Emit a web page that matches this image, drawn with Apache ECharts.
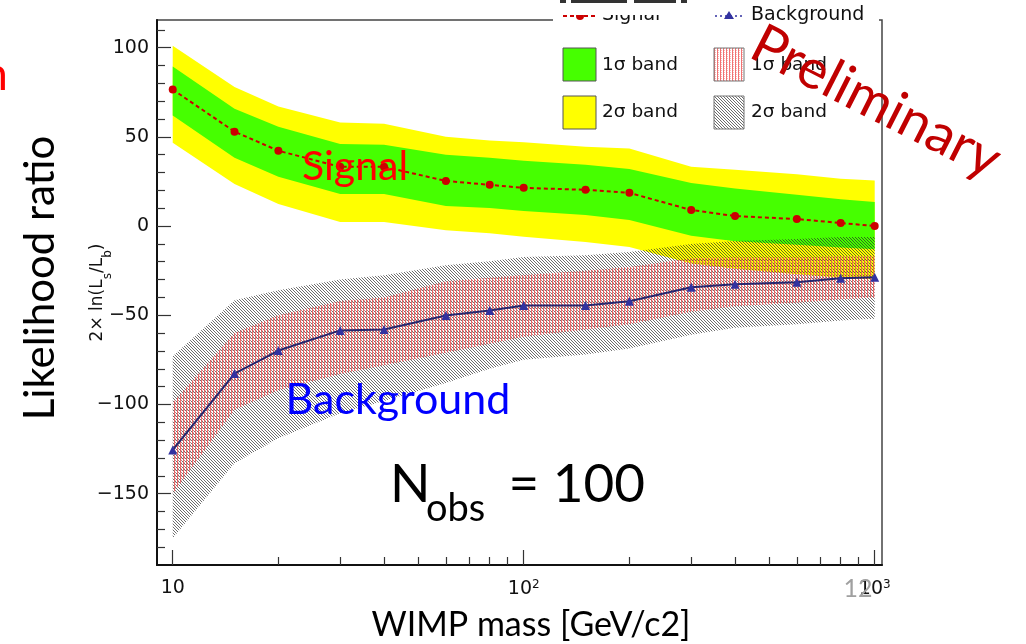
<!DOCTYPE html>
<html>
<head>
<meta charset="utf-8">
<script src="https://cdn.jsdelivr.net/npm/echarts@6/dist/echarts.min.js"></script>
<style>html,body{margin:0;padding:0;background:#fff}#c{width:1026px;height:644px}</style>
</head>
<body>
<div id="c"></div>
<script>
// ---- data ----
const mass = [10, 15, 20, 30, 40, 60, 80, 100, 150, 200, 300, 400, 600, 800, 1000];
const signal = [76.5, 52.9, 42.2, 33.2, 33.2, 25.3, 23.1, 21.4, 20.3, 18.6, 9.0, 5.6, 3.9, 1.7, 0.0];
const sig2Up = [101, 78, 67, 58, 57.4, 50, 48, 47, 44.5, 43.5, 33.2, 31.5, 29, 26.5, 25.5];
const sig1Up = [89.5, 65.8, 55.7, 46, 45.6, 40, 38.3, 36.6, 34.3, 32, 24.2, 21, 17.5, 15, 13.5];
const sig1Lo = [62, 38.3, 27.6, 18, 18, 11.3, 10.1, 8.4, 6.2, 3.4, -5.5, -8.5, -10.5, -12, -13];
const sig2Lo = [46.7, 23.6, 12.4, 2.3, 2.3, -2.3, -4, -6, -9, -11.8, -21, -24, -27, -29, -30];
const background = [-125.5, -82.7, -69.8, -58.5, -58, -50.1, -47.3, -44.5, -44.5, -42.2, -34.3, -32.6, -31.5, -29.3, -28.7];
const bkg2Up = [-73, -41.6, -36, -30, -27.6, -22, -19.7, -17.4, -16.3, -14.6, -10, -8.4, -7.3, -6.2, -6.2];
const bkg1Up = [-99, -60, -50, -42, -40, -31, -29, -27.5, -25, -23, -18, -17.5, -17.5, -17, -17];
const bkg1Lo = [-150, -103, -92, -83, -78, -71, -66, -62, -58, -55, -48, -45, -43, -41, -40];
const bkg2Lo = [-175, -133, -119, -105, -98, -88, -80, -75, -72, -68.7, -61, -57, -55, -53, -52];

const xMajorTicks = [10, 100, 1000];
const xMinorTicks = [20, 30, 40, 50, 60, 70, 80, 90, 200, 300, 400, 500, 600, 700, 800, 900];
const yMajorTicks = [-150, -100, -50, 0, 50, 100];
const yMinorTicks = [-180, -170, -160, -140, -130, -120, -110, -90, -80, -70, -60, -40, -30, -20, -10,
  10, 20, 30, 40, 60, 70, 80, 90, 110];

// ---- hatch patterns ----
function makePattern(w, h, painter) {
  const c = document.createElement('canvas');
  c.width = w; c.height = h;
  const g = c.getContext('2d');
  painter(g);
  return { image: c, repeat: 'repeat' };
}
const grayHatch = makePattern(3, 3, g => {
  g.fillStyle = 'rgba(40,40,40,0.68)';
  g.fillRect(0, 0, 1, 1); g.fillRect(1, 1, 1, 1); g.fillRect(2, 2, 1, 1);
});
const redHatch = makePattern(3, 2, g => {
  g.fillStyle = 'rgba(238,80,80,0.8)';
  g.fillRect(0, 0, 1, 2);
  g.fillStyle = 'rgba(242,140,140,0.6)';
  g.fillRect(1, 0, 1, 1);
});

function band(name, lo, up, fill, z) {
  return {
    name: name, type: 'custom', z: z, silent: true,
    data: [[mass[0], up[0]]],
    renderItem: function (params, api) {
      const pts = [];
      for (let i = 0; i < mass.length; i++) pts.push(api.coord([mass[i], up[i]]));
      for (let i = mass.length - 1; i >= 0; i--) pts.push(api.coord([mass[i], lo[i]]));
      return { type: 'polygon', shape: { points: pts }, style: { fill: fill, stroke: null } };
    }
  };
}

const chart = echarts.init(document.getElementById('c'));
const tickFont = 'DejaVu Sans';

const option = {
  animation: false,
  backgroundColor: '#ffffff',
  grid: { left: 157, right: 144, top: 20, bottom: 79, show: true, borderColor: '#444', borderWidth: 1.5, backgroundColor: 'transparent' },
  xAxis: [
    {
      type: 'log', logBase: 10, min: 9.02, max: 1049, position: 'bottom',
      axisLine: { show: true, onZero: false, lineStyle: { color: '#111', width: 2 } },
      axisTick: { show: true, inside: true, length: 15, customValues: xMajorTicks, lineStyle: { color: '#333', width: 1.2 } },
      axisLabel: {
        show: true, customValues: xMajorTicks, margin: 14, color: '#111', fontFamily: tickFont, fontSize: 19,
        formatter: v => v === 10 ? '10' : (v === 100 ? '10{sup|2}' : '10{sup|3}'),
        rich: { sup: { fontSize: 12, fontFamily: tickFont, color: '#111', verticalAlign: 'bottom', padding: [0, 0, 9, 0] } }
      },
      splitLine: { show: false }, minorTick: { show: false }
    },
    {
      type: 'log', logBase: 10, min: 9.02, max: 1049, position: 'bottom',
      axisLine: { show: false, onZero: false },
      axisTick: { show: true, inside: true, length: 8, customValues: xMinorTicks, lineStyle: { color: '#333', width: 1.2 } },
      axisLabel: { show: false }, splitLine: { show: false }
    }
  ],
  yAxis: [
    {
      type: 'value', min: -190, max: 115.5, position: 'left',
      axisLine: { show: true, onZero: false, lineStyle: { color: '#111', width: 2 } },
      axisTick: { show: true, inside: true, length: 14, customValues: yMajorTicks, lineStyle: { color: '#333', width: 1.2 } },
      axisLabel: {
        show: true, customValues: yMajorTicks, margin: 8, color: '#111', fontFamily: tickFont, fontSize: 19,
        formatter: v => String(v).replace('-', '\u2212')
      },
      splitLine: { show: false },
      name: '{m|2× ln(L}{sub|s}{m|/L}{sub|b}{m|)}',
      nameLocation: 'middle', nameRotate: 90, nameGap: 43, nameMoveOverlap: false,
      nameTextStyle: {
        color: '#111',
        rich: {
          m: { fontFamily: tickFont, fontSize: 17, color: '#111', verticalAlign: 'top', lineHeight: 25 },
          sub: { fontFamily: tickFont, fontSize: 12, color: '#111', verticalAlign: 'bottom', lineHeight: 25 }
        }
      }
    },
    {
      type: 'value', min: -190, max: 115.5, position: 'left',
      axisLine: { show: false, onZero: false },
      axisTick: { show: true, inside: true, length: 8, customValues: yMinorTicks, lineStyle: { color: '#333', width: 1.2 } },
      axisLabel: { show: false }, splitLine: { show: false }
    }
  ],
  series: [
    band('Signal 2σ band', sig2Lo, sig2Up, '#ffff00', 1),
    band('Signal 1σ band', sig1Lo, sig1Up, '#46ff00', 2),
    band('Background 2σ band', bkg2Lo, bkg2Up, grayHatch, 3),
    band('Background 1σ band', bkg1Lo, bkg1Up, redHatch, 4),
    {
      name: 'Signal', type: 'line', z: 6, silent: true,
      data: mass.map((m, i) => [m, signal[i]]),
      symbol: 'circle', symbolSize: 8, showSymbol: true,
      lineStyle: { color: '#cc0000', width: 2, type: [4, 3] },
      itemStyle: { color: '#cc0000' }
    },
    {
      name: 'Background', type: 'line', z: 6, silent: true,
      data: mass.map((m, i) => [m, background[i]]),
      symbol: 'triangle', symbolSize: 9, showSymbol: true,
      lineStyle: { color: '#26266e', width: 2 },
      itemStyle: { color: '#3232a0' }
    }
  ],
  graphic: [
    // legend: white box masking frame top
    { type: 'rect', z: 100, shape: { x: 553, y: 16, width: 326, height: 8 }, style: { fill: '#fff' } },
    // signal legend entry
    { type: 'line', z: 101, shape: { x1: 563, y1: 16, x2: 596, y2: 16 }, style: { stroke: '#cc0000', lineWidth: 2, lineDash: [4, 3] } },
    { type: 'circle', z: 101, shape: { cx: 580, cy: 16, r: 4 }, style: { fill: '#cc0000' } },
    { type: 'text', z: 101, x: 602, y: 15, style: { text: 'Signal', fill: '#111', font: '19px "DejaVu Sans"', textVerticalAlign: 'middle' } },
    // slide box cutting the top of the legend
    { type: 'rect', z: 102, shape: { x: 548, y: 0, width: 152, height: 15 }, style: { fill: '#fff' } },
    { type: 'rect', z: 103, shape: { x: 560, y: 0, width: 6, height: 3 }, style: { fill: '#333' } },
    { type: 'rect', z: 103, shape: { x: 571, y: 0, width: 56, height: 3 }, style: { fill: '#333' } },
    { type: 'rect', z: 103, shape: { x: 634, y: 0, width: 42, height: 3 }, style: { fill: '#333' } },
    { type: 'rect', z: 103, shape: { x: 681, y: 0, width: 6, height: 3 }, style: { fill: '#333' } },
    // background legend entry
    { type: 'line', z: 101, shape: { x1: 715, y1: 16, x2: 744, y2: 16 }, style: { stroke: '#3232a0', lineWidth: 1.5, lineDash: [2, 3] } },
    { type: 'polygon', z: 101, shape: { points: [[729, 11], [734, 19], [724, 19]] }, style: { fill: '#3232a0' } },
    { type: 'text', z: 101, x: 751, y: 15, style: { text: 'Background', fill: '#111', font: '19px "DejaVu Sans"', textVerticalAlign: 'middle' } },
    // band swatches
    { type: 'rect', z: 101, shape: { x: 563, y: 48, width: 33, height: 33 }, style: { fill: '#46ff00', stroke: '#555', lineWidth: 1 } },
    { type: 'text', z: 101, x: 602, y: 65, style: { text: '1σ band', fill: '#111', font: '18.5px "DejaVu Sans"', textVerticalAlign: 'middle' } },
    { type: 'rect', z: 101, shape: { x: 563, y: 96, width: 33, height: 33 }, style: { fill: '#ffff00', stroke: '#555', lineWidth: 1 } },
    { type: 'text', z: 101, x: 602, y: 112, style: { text: '2σ band', fill: '#111', font: '18.5px "DejaVu Sans"', textVerticalAlign: 'middle' } },
    { type: 'rect', z: 101, shape: { x: 714, y: 48, width: 30, height: 33 }, style: { fill: redHatch, stroke: '#777', lineWidth: 1 } },
    { type: 'text', z: 101, x: 751, y: 65, style: { text: '1σ band', fill: '#111', font: '18.5px "DejaVu Sans"', textVerticalAlign: 'middle' } },
    { type: 'rect', z: 101, shape: { x: 714, y: 96, width: 30, height: 33 }, style: { fill: grayHatch, stroke: '#777', lineWidth: 1 } },
    { type: 'text', z: 101, x: 751, y: 112, style: { text: '2σ band', fill: '#111', font: '18.5px "DejaVu Sans"', textVerticalAlign: 'middle' } },
    // slide annotations
    { type: 'text', z: 110, x: 876, y: 102, rotation: -0.47, style: { text: 'Preliminary', fill: '#c00000', font: '55px Lato', textAlign: 'center', textVerticalAlign: 'middle' } },
    { type: 'text', z: 110, x: 355, y: 167, style: { text: 'Signal', fill: '#ff0000', font: '41px Lato', textAlign: 'center', textVerticalAlign: 'middle' } },
    { type: 'text', z: 110, x: 398, y: 400, style: { text: 'Background', fill: '#0000ff', font: '43px Lato', textAlign: 'center', textVerticalAlign: 'middle' } },
    { type: 'text', z: 110, x: 390, y: 511, style: { text: 'N', fill: '#000', font: '53px Lato', textVerticalAlign: 'bottom' } },
    { type: 'text', z: 110, x: 426, y: 528, style: { text: 'obs', fill: '#000', font: '38px Lato', textVerticalAlign: 'bottom' } },
    { type: 'text', z: 110, x: 645, y: 511, style: { text: '= 100', fill: '#000', font: '53px Lato', textAlign: 'right', textVerticalAlign: 'bottom' } },
    { type: 'text', z: 110, x: 40, y: 278, rotation: Math.PI / 2, style: { text: 'Likelihood ratio', fill: '#000', font: '42px Lato', textAlign: 'center', textVerticalAlign: 'middle' } },
    { type: 'text', z: 110, x: 531, y: 625, style: { text: 'WIMP mass [GeV/c2]', fill: '#000', font: '34px Lato', textAlign: 'center', textVerticalAlign: 'middle' } },
    { type: 'text', z: 110, x: 858, y: 589, style: { text: '12', fill: '#a0a0a0', font: '25px Lato', textAlign: 'center', textVerticalAlign: 'middle' } },
    { type: 'text', z: 110, x: 8, y: 75, style: { text: 'n', fill: '#ff0000', font: '46px Lato', textAlign: 'right', textVerticalAlign: 'middle' } }
  ]
};
chart.setOption(option);
</script>
</body>
</html>
